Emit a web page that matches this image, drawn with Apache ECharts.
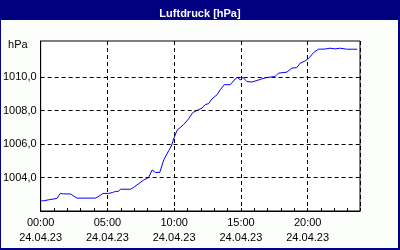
<!DOCTYPE html>
<html>
<head>
<meta charset="utf-8">
<script src="https://cdn.jsdelivr.net/npm/echarts@6/dist/echarts.min.js"></script>
<style>
html,body{margin:0;padding:0;background:#000080;}
#c{width:400px;height:250px;}
</style>
</head>
<body>
<div id="c"></div>
<script>
// Time of day (hours after 00:00 on 24.04.23)
const hours = [0.05,0.22,0.3,0.67,0.75,1.22,1.47,1.72,2.22,2.47,2.72,4.09,4.26,4.46,4.66,5.08,5.38,5.6,5.83,5.98,6.73,6.95,7.35,7.72,8.09,8.35,8.6,8.92,9.22,9.59,9.79,9.96,10.22,10.71,11.08,11.41,11.71,12.09,12.33,12.58,12.83,13.21,13.45,13.75,14.2,14.57,14.75,14.95,15.15,15.45,15.82,16.2,16.57,16.94,17.56,17.81,18.44,18.81,19.19,19.43,19.81,20.13,20.43,20.8,21.3,21.67,22.05,22.42,22.92,23.71];
// Air pressure [hPa]
const pressure = [1002.61,1002.61,1002.66,1002.68,1002.75,1002.75,1003.05,1003.02,1003.02,1002.9,1002.77,1002.77,1002.83,1002.93,1003.05,1003.05,1003.1,1003.17,1003.17,1003.3,1003.3,1003.4,1003.64,1003.85,1004.0,1004.45,1004.3,1004.3,1005.05,1005.6,1005.88,1006.3,1006.82,1007.16,1007.5,1007.89,1008.0,1008.15,1008.35,1008.41,1008.69,1008.94,1009.24,1009.54,1009.54,1009.88,1009.97,1009.83,1009.97,1009.73,1009.7,1009.79,1009.89,1009.97,1010.03,1010.23,1010.29,1010.53,1010.56,1010.82,1010.96,1011.16,1011.45,1011.66,1011.67,1011.72,1011.68,1011.72,1011.66,1011.66];
// Y tick labels shown
const yTicks = [1004, 1006, 1008, 1010];
const dateLabel = '24.04.23';
const titleText = 'Luftdruck [hPa]';
const unitText = 'hPa';

const FONT = "'Liberation Sans Narrow', 'Liberation Sans', sans-serif";
const chart = echarts.init(document.getElementById('c'), null, {renderer: 'canvas'});
const pad = n => (n < 10 ? '0' : '') + n;

chart.setOption({
  animation: false,
  backgroundColor: '#000080',
  graphic: [
    {type: 'rect', z: -10, silent: true, shape: {x: 1, y: 20, width: 397, height: 228}, style: {fill: '#fbfefb'}}
  ],
  title: {
    text: titleText,
    left: 'center',
    top: 3,
    textStyle: {color: '#ffffff', fontWeight: 'bold', fontSize: 11, fontFamily: "'Liberation Sans', sans-serif"}
  },
  grid: {
    left: 40, right: 40, top: 41, bottom: 39,
    show: true, borderColor: '#000', borderWidth: 1, backgroundColor: '#ffffff'
  },
  xAxis: [
    {
      type: 'value', min: 0, max: 23.92, interval: 5, position: 'bottom',
      axisLine: {show: true, lineStyle: {color: '#000', width: 1}},
      axisTick: {show: true, inside: true, length: 3, lineStyle: {color: '#000'}},
      splitLine: {show: true, lineStyle: {color: '#000', type: [4, 3], width: 1}},
      axisLabel: {
        showMaxLabel: false, margin: 4, color: '#000', fontSize: 11, fontFamily: FONT, lineHeight: 15,
        formatter: v => pad(Math.round(v)) + ':00\n' + dateLabel
      }
    },
    {
      type: 'value', min: 0, max: 23.92, interval: 1, position: 'bottom',
      axisLine: {show: false},
      axisTick: {show: true, inside: true, length: 3, lineStyle: {color: '#000'}},
      splitLine: {show: false},
      axisLabel: {show: false}
    }
  ],
  yAxis: {
    type: 'value', min: 1002, max: 1012.15, interval: 2,
    name: unitText, nameLocation: 'end', nameGap: -4,
    nameTextStyle: {color: '#000', fontSize: 11, fontFamily: FONT, align: 'right', verticalAlign: 'middle', padding: [0, 13, 0, 0]},
    axisLine: {show: true, lineStyle: {color: '#000'}},
    axisTick: {show: false},
    splitLine: {show: false},
    axisLabel: {
      margin: 4, color: '#000', fontSize: 11, fontFamily: FONT,
      formatter: v => (yTicks.indexOf(v) >= 0 ? v.toFixed(1).replace('.', ',') : '')
    }
  },
  series: [{
    type: 'line',
    xAxisIndex: 0,
    data: hours.map((h, i) => [h, pressure[i]]),
    showSymbol: false,
    symbol: 'none',
    lineStyle: {color: '#0000ff', width: 1},
    markLine: {
      silent: true, symbol: ['none', 'none'], label: {show: false},
      lineStyle: {color: '#000', type: [4, 3], width: 1},
      emphasis: {disabled: true},
      data: yTicks.map(v => ({yAxis: v}))
    }
  }]
});
</script>
</body>
</html>
